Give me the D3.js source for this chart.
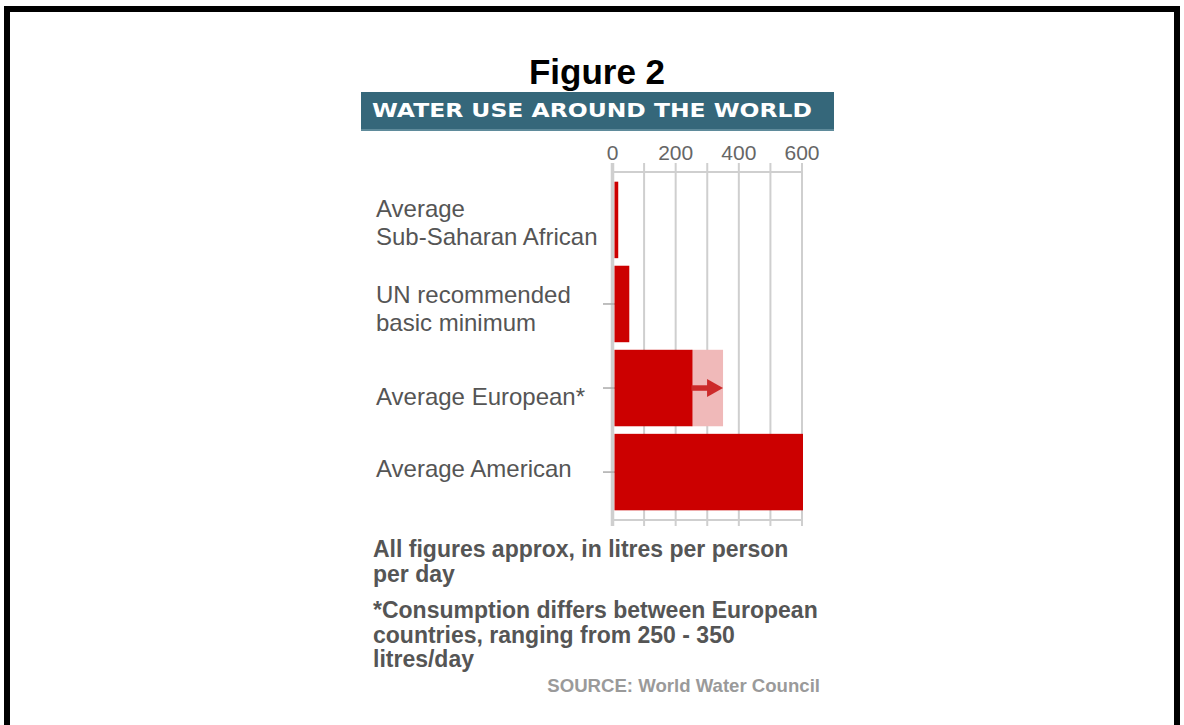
<!DOCTYPE html>
<html>
<head>
<meta charset="utf-8">
<script src="https://cdn.jsdelivr.net/npm/d3@7"></script>
<style>
  body { margin: 0; background: #fff; }
  svg { display: block; }
</style>
</head>
<body>
<script>
var width = 1184;
var height = 725;

// data (litres per person per day)
var categories = ["Average Sub-Saharan African", "UN recommended basic minimum", "Average European*", "Average American"];
var labelLines = [["Average", "Sub-Saharan African"], ["UN recommended", "basic minimum"], ["Average European*"], ["Average American"]];
var values = [15, 50, 250, 600];
var europeRange = [250, 350];
var xTicks = [0, 200, 400, 600];
var gridValues = [0, 100, 200, 300, 400, 500, 600];
var notes = [["All figures approx, in litres per person", "per day"],
             ["*Consumption differs between European", "countries, ranging from 250 - 350", "litres/day"]];
var source = "SOURCE: World Water Council";

var red = "#cc0000";
var grey = "#555";

var svg = d3.select("body")
            .append("svg")
            .attr("width", width)
            .attr("height", height);

// black frame round the figure
svg.append("rect")
  .attr("x", 7).attr("y", 9)
  .attr("width", 1170).attr("height", 800)
  .attr("fill", "none")
  .attr("stroke", "#000")
  .attr("stroke-width", 6);

svg.append("text")
  .attr("x", 597).attr("y", 84)
  .attr("text-anchor", "middle")
  .style("font", "bold 35px 'Liberation Sans', Arial, sans-serif")
  .attr("fill", "#000")
  .text("Figure 2");

// banner
svg.append("rect")
  .attr("x", 361).attr("y", 92)
  .attr("width", 473).attr("height", 39)
  .attr("fill", "#35677a");
svg.append("rect")
  .attr("x", 361).attr("y", 129)
  .attr("width", 473).attr("height", 2)
  .attr("fill", "#5f8b9b");
svg.append("text")
  .attr("x", 372).attr("y", 117)
  .attr("textLength", 440)
  .attr("lengthAdjust", "spacingAndGlyphs")
  .style("font", "bold 19.5px 'DejaVu Sans', Verdana, sans-serif")
  .attr("fill", "#fff")
  .text("WATER USE AROUND THE WORLD");

var x = d3.scaleLinear().domain([0, 600]).range([612.5, 802]);
var y = d3.scaleBand().domain(categories).range([180, 512]).paddingInner(0.09).paddingOuter(0.02);

var gridTop = 163, gridBottom = 526;

// grid
svg.selectAll("line.grid")
  .data(gridValues)
  .enter().append("line")
  .attr("class", "grid")
  .attr("x1", function(d) { return x(d); })
  .attr("x2", function(d) { return x(d); })
  .attr("y1", gridTop)
  .attr("y2", gridBottom)
  .attr("stroke", "#cfcfcf")
  .attr("stroke-width", function(d) { return d === 0 ? 3.5 : 2; });

[172, 520].forEach(function(yy) {
  svg.append("line")
    .attr("x1", x(0)).attr("x2", x(600))
    .attr("y1", yy).attr("y2", yy)
    .attr("stroke", "#cfcfcf")
    .attr("stroke-width", 2);
});

svg.selectAll("text.tick")
  .data(xTicks)
  .enter().append("text")
  .attr("class", "tick")
  .attr("x", function(d) { return x(d); })
  .attr("y", 160)
  .attr("text-anchor", "middle")
  .style("font", "21px 'Liberation Sans', Arial, sans-serif")
  .attr("fill", "#666")
  .text(function(d) { return d; });

// european range box + arrow
var eu = categories[2];
svg.append("rect")
  .attr("x", x(europeRange[0]))
  .attr("y", y(eu))
  .attr("width", x(europeRange[1]) - x(europeRange[0]))
  .attr("height", y.bandwidth())
  .attr("fill", "#f0b9b9");

// y ticks (first one is not drawn in the original)
svg.selectAll("line.ytick")
  .data(categories.slice(1))
  .enter().append("line")
  .attr("class", "ytick")
  .attr("x1", 603).attr("x2", 622)
  .attr("y1", function(d) { return y(d) + y.bandwidth() / 2; })
  .attr("y2", function(d) { return y(d) + y.bandwidth() / 2; })
  .attr("stroke", "#aaa")
  .attr("stroke-width", 1.5);

svg.selectAll("rect.bar")
  .data(values)
  .enter().append("rect")
  .attr("class", "bar")
  .attr("x", x(0) + 2)
  .attr("y", function(d, i) { return y(categories[i]); })
  .attr("width", function(d) { return x(d) - x(0) - 1; })
  .attr("height", y.bandwidth())
  .attr("fill", red);

var cy = y(eu) + y.bandwidth() / 2;
var tip = x(europeRange[1]);
svg.append("line")
  .attr("x1", x(europeRange[0])).attr("x2", tip - 14)
  .attr("y1", cy).attr("y2", cy)
  .attr("stroke", "#cc2a2a")
  .attr("stroke-width", 5.5);
svg.append("path")
  .attr("d", "M" + (tip - 16) + "," + (cy - 9) + "L" + tip + "," + cy + "L" + (tip - 16) + "," + (cy + 9) + "Z")
  .attr("fill", "#cc2a2a");

// category labels
var labelDy = [-3, -1, 17, 5];
labelLines.forEach(function(lines, i) {
  var c = y(categories[i]) + y.bandwidth() / 2 + labelDy[i];
  svg.append("text")
    .attr("x", 376)
    .style("font", "24px 'Liberation Sans', Arial, sans-serif")
    .attr("fill", grey)
    .selectAll("tspan")
    .data(lines)
    .enter().append("tspan")
    .attr("x", 376)
    .attr("y", function(d, j) { return c + j * 28.5; })
    .text(function(d) { return d; });
});

// notes
var noteY = [557, 618];
notes.forEach(function(lines, i) {
  svg.append("text")
    .style("font", "bold 23px 'Liberation Sans', Arial, sans-serif")
    .attr("fill", grey)
    .selectAll("tspan")
    .data(lines)
    .enter().append("tspan")
    .attr("x", 373)
    .attr("y", function(d, j) { return noteY[i] + j * 24.5; })
    .text(function(d) { return d; });
});

svg.append("text")
  .attr("x", 820).attr("y", 692)
  .attr("text-anchor", "end")
  .style("font", "bold 18.6px 'Liberation Sans', Arial, sans-serif")
  .attr("fill", "#9a9a9a")
  .text(source);
</script>
</body>
</html>
